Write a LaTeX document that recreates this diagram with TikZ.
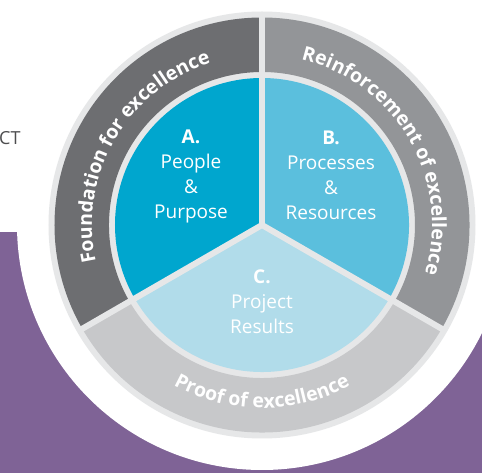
\documentclass[tikz,border=0pt]{standalone}
\usepackage{fontspec}
\setmainfont{Open Sans}
\usetikzlibrary{decorations.text}
\definecolor{backpurple}{RGB}{127,99,150}
\definecolor{border}{RGB}{230,231,232}
\definecolor{ringdark}{RGB}{109,110,113}
\definecolor{ringmid}{RGB}{147,149,152}
\definecolor{ringlight}{RGB}{199,200,202}
\definecolor{blueA}{RGB}{0,166,206}
\definecolor{blueB}{RGB}{91,191,221}
\definecolor{blueC}{RGB}{177,220,234}
\definecolor{cuttext}{RGB}{77,77,79}
\newcommand{\ringfont}{\color{white}\bfseries\fontsize{19.5}{20}\selectfont}
\tikzset{
RING/.style={fill=#1,draw=none},
SECTOR/.style={fill=#1,draw=none},
SEPARATOR/.style={draw=border,line width=6pt,line cap=round},
RINGTEXT/.style={decorate,decoration={text along path,text align=center,text={|\ringfont|#1}}},
LABEL/.style={text=white,align=center,font=\fontsize{19}{25}\selectfont,inner sep=0pt,anchor=base},
}
\begin{document}
\begin{tikzpicture}
[x=1pt,y=1pt]
	\useasboundingbox (-262,-248) rectangle (220,225);
	%Background
	\fill[backpurple] (-262,-248) rectangle (220,-7);
	\node[anchor=base west,inner sep=0pt,text=cuttext,font=\fontsize{18}{20}\selectfont] (cut) at (-263,80) {CT};
	\fill[white] (0,0) circle[radius=245];
	\fill[border] (0,0) circle[radius=213.5];
	%Outer ring
	\foreach \a/\c in {90/ringdark,-30/ringmid,210/ringlight}
		\path[RING=\c] (\a:207.5) arc[start angle=\a,delta angle=120,radius=207.5]
		-- (\a+120:153) arc[start angle=\a+120,delta angle=-120,radius=153] -- cycle;
	%Inner sectors
	\foreach \a/\c in {90/blueA,-30/blueB,210/blueC}
		\path[SECTOR=\c] (0,0) -- (\a:147) arc[start angle=\a,delta angle=120,radius=147] -- cycle;
	\foreach \a in {90,210,330}
		\path[SEPARATOR] (0,0) -- (\a:210);
	%Ring labels
	\path[RINGTEXT={Foundation for excellence}] (210:170) arc[start angle=210,end angle=90,radius=170];
	\path[RINGTEXT={Reinforcement of excellence}] (90:170) arc[start angle=90,end angle=-30,radius=170];
	\path[RINGTEXT={Proof of excellence}] (210:183) arc[start angle=210,end angle=330,radius=183];
	%Sector labels (base = last line)
	\node[LABEL] (people) at (-71,6) {\textbf{A.}\\People\\\&\\Purpose};
	\node[LABEL] (processes) at (69,5) {\textbf{B.}\\Processes\\\&\\Resources};
	\node[LABEL] (results) at (0,-109) {\textbf{C.}\\Project\\Results};
\end{tikzpicture}
\end{document}
